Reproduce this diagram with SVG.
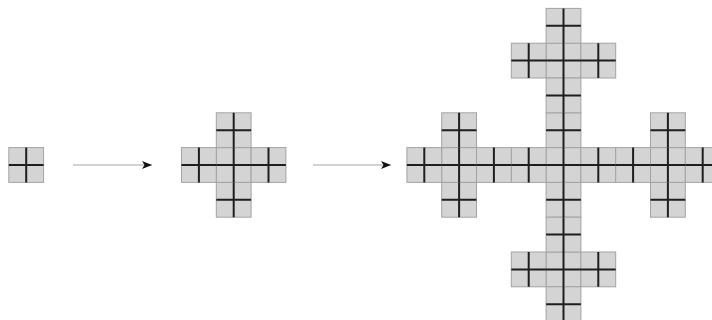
<svg xmlns="http://www.w3.org/2000/svg" xmlns:xlink="http://www.w3.org/1999/xlink" width="712" height="320" viewBox="0 0 712 320">
  <style>
    .cell { fill: #d4d4d4; stroke: #a3a3a3; stroke-width: 1; }
    .plus { fill: none; stroke: #1e1e1e; stroke-width: 2; }
    .conn { fill: none; stroke: #a8a8a8; stroke-width: 1.2; }
  </style>
  <defs>
    <marker id="arr" markerUnits="userSpaceOnUse" markerWidth="11" markerHeight="9" refX="10" refY="4.5" orient="auto" viewBox="0 0 11 9">
      <path d="M0,0.5 L10,4.5 L0,8.5 L2.5,4.5 Z" fill="#111"/>
    </marker>
    <rect id="blk" class="cell" x="-17.4" y="-17.4" width="34.8" height="34.8"/>
    <path id="pl" class="plus" d="M-17.4,0H17.4M0,-17.4V17.4"/>
    <g id="crossF">
      <use xlink:href="#blk" href="#blk"/>
      <use xlink:href="#blk" href="#blk" x="-34.8"/>
      <use xlink:href="#blk" href="#blk" x="34.8"/>
      <use xlink:href="#blk" href="#blk" y="-34.8"/>
      <use xlink:href="#blk" href="#blk" y="34.8"/>
    </g>
    <g id="crossL">
      <use xlink:href="#pl" href="#pl"/>
      <use xlink:href="#pl" href="#pl" x="-34.8"/>
      <use xlink:href="#pl" href="#pl" x="34.8"/>
      <use xlink:href="#pl" href="#pl" y="-34.8"/>
      <use xlink:href="#pl" href="#pl" y="34.8"/>
    </g>
  </defs>

  <g id="fig1" transform="translate(26.2,165)">
    <use xlink:href="#blk" href="#blk"/>
    <use xlink:href="#pl" href="#pl"/>
  </g>

  <g id="fig2" transform="translate(233.7,165)">
    <use xlink:href="#crossF" href="#crossF"/>
    <use xlink:href="#crossL" href="#crossL"/>
  </g>

  <g id="fig3" transform="translate(563.5,165)">
    <use xlink:href="#crossF" href="#crossF"/>
    <use xlink:href="#crossF" href="#crossF" x="-104.4"/>
    <use xlink:href="#crossF" href="#crossF" x="104.4"/>
    <use xlink:href="#crossF" href="#crossF" y="-104.4"/>
    <use xlink:href="#crossF" href="#crossF" y="104.4"/>
    <use xlink:href="#crossL" href="#crossL"/>
    <use xlink:href="#crossL" href="#crossL" x="-104.4"/>
    <use xlink:href="#crossL" href="#crossL" x="104.4"/>
    <use xlink:href="#crossL" href="#crossL" y="-104.4"/>
    <use xlink:href="#crossL" href="#crossL" y="104.4"/>
  </g>

  <g id="connectors">
    <line class="conn" x1="73" y1="165" x2="152" y2="165" marker-end="url(#arr)"/>
    <line class="conn" x1="313" y1="165" x2="391" y2="165" marker-end="url(#arr)"/>
  </g>
</svg>
